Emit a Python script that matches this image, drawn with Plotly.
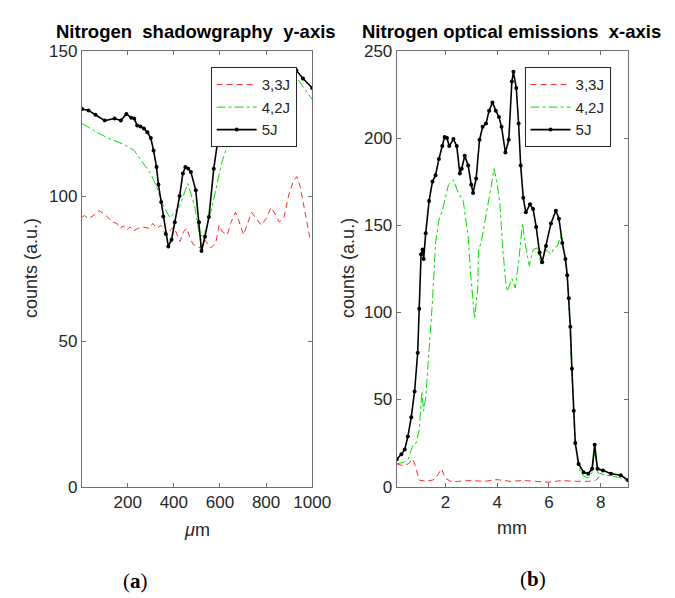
import plotly.graph_objects as go

# ---- panel (a): shadowgraphy, y-axis (um) ----
a_x_33 = [2, 13, 27, 48, 76, 97, 118, 132, 153, 167, 181, 195, 210, 224, 245, 266, 294, 308,
          329, 343, 357, 371, 385, 400, 414, 427, 442, 456, 470, 484, 512, 533, 561, 582,
          596, 610, 632, 646, 667, 681, 702, 723, 737, 758, 779, 800, 822, 843, 857, 878,
          899, 920, 934, 948, 969, 990, 1000]
a_y_33 = [92.8, 93.3, 92.2, 93.1, 95, 93.9, 92.4, 91.1, 90.6, 88.9, 89.8, 88.3, 89.4, 88,
          88.9, 89.4, 88.9, 90.6, 88.9, 90, 87.8, 86.7, 88.3, 89.4, 86.7, 84.4, 87.8, 88.9,
          85.6, 83.3, 82.2, 85, 82.2, 83.9, 90, 87.8, 86.7, 90.6, 94.4, 91.7, 86.7, 91.1,
          94.4, 92.2, 90, 92.2, 96.1, 93.3, 91.1, 92.8, 100.6, 105.6, 106.7, 103.3, 95, 85.6, 85]

a_x_42 = [2, 59, 114, 186, 228, 257, 300, 325, 354, 384, 426, 460, 490, 511, 530, 565,
          608, 641, 657, 700, 750, 800, 850, 916, 945, 1000]
a_y_42 = [125, 122.3, 120, 117.7, 115.7, 112.3, 107.7, 103.3, 96.7, 92.5, 96.7, 104.3, 96.7,
          86.7, 86.1, 96, 111.7, 119.4, 122.8, 128, 132, 136, 139, 141.5, 139.4, 133.3]

a_x_5 = [2, 30, 60, 100, 143, 170, 194, 215, 228, 241, 255, 270, 285, 300, 312, 325, 333,
         345, 354, 365, 376, 390, 404, 425, 439, 450, 462, 474, 495, 509, 520, 535, 552,
         573, 594, 620, 650, 700, 750, 800, 850, 900, 931, 960, 1000]
a_y_5 = [130, 129.5, 128, 126, 126.7, 126, 128.3, 127, 126.7, 124.3, 124, 123.3, 122, 120,
         115.7, 110, 104, 98, 93, 87, 82.7, 85, 91, 100, 107.8, 110, 109.5, 108.3, 102, 91,
         81.1, 86, 92.8, 109.4, 121.1, 128, 134, 138, 140, 141, 142, 143, 143.3, 140.5, 137.2]

# ---- panel (b): optical emissions, x-axis (mm) ----
b_x_33 = [0.12, 0.37, 0.56, 0.75, 0.87, 0.99, 1.24, 1.5, 1.62, 1.85, 2.0, 2.25, 2.5, 3.0,
          3.5, 4.0, 4.5, 5.0, 5.5, 6.0, 6.5, 7.0, 7.5, 7.8, 8.0]
b_y_33 = [13, 12, 13, 15.7, 10.2, 3.7, 3.1, 3.7, 4.6, 10.2, 4.6, 2.8, 3, 3.5, 3, 4, 3, 3.5,
          3, 2.5, 3.5, 3, 3, 3.5, 6.5]

b_x_42 = [0.12, 0.37, 0.56, 0.75, 0.87, 0.99, 1.09, 1.16, 1.24, 1.37, 1.5, 1.62, 1.75, 1.88,
          2.0, 2.12, 2.31, 2.5, 2.69, 2.75, 2.88, 2.98, 3.07, 3.13, 3.25, 3.28, 3.38, 3.57,
          3.76, 3.88, 4.01, 4.11, 4.2, 4.32, 4.39, 4.57, 4.7, 4.83, 4.98, 5.08, 5.24, 5.39,
          5.54, 5.7, 5.89, 6.08, 6.21, 6.33, 6.45, 6.64, 6.71, 6.77, 6.83, 6.89, 6.96, 7.02,
          7.15, 7.34, 7.52, 7.67, 7.77, 7.88, 8.09, 8.4, 8.78, 9.06]
b_y_42 = [13, 13.9, 15.7, 24, 25, 32.4, 54.6, 43.5, 50.9, 76.8, 106, 139.8, 152.8, 158.3,
          166.7, 173.2, 175.9, 168.5, 163.9, 158.3, 143.5, 121.3, 104.6, 96.3, 113.9, 136,
          139.8, 154.6, 171.3, 182.4, 173.2, 162, 139.8, 119.4, 112, 119.4, 113.9, 128.7, 151,
          139.8, 126.8, 136, 137, 127.8, 136, 133.3, 137, 138, 143.5, 130.6, 120, 105, 88, 65,
          42, 24, 11, 6, 5, 8, 20, 8, 7, 6, 5, 3]

b_x_5 = [0.12, 0.3, 0.43, 0.55, 0.68, 0.81, 0.93, 0.99, 1.06, 1.12, 1.16, 1.24, 1.37, 1.5,
         1.62, 1.75, 1.88, 1.97, 2.06, 2.15, 2.31, 2.44, 2.56, 2.63, 2.75, 2.88, 3.0, 3.07,
         3.19, 3.32, 3.44, 3.57, 3.69, 3.82, 3.95, 4.07, 4.17, 4.32, 4.45, 4.57, 4.63, 4.74,
         4.83, 4.91, 5.01, 5.11, 5.27, 5.39, 5.51, 5.64, 5.74, 5.89, 6.08, 6.27, 6.39, 6.52,
         6.64, 6.71, 6.77, 6.83, 6.89, 6.96, 7.02, 7.15, 7.34, 7.52, 7.67, 7.77, 7.88, 8.09,
         8.4, 8.78, 9.06]
b_y_5 = [15.7, 18.5, 21.3, 28.7, 39.8, 54.6, 76.8, 102, 133.3, 136, 130.6, 145.4, 163.9, 175,
         178.7, 188, 195.4, 200.6, 200, 195.4, 199.4, 195.4, 179.6, 182.4, 189.8, 184.3,
         173.2, 168.5, 176.8, 199, 206.5, 208.3, 215.7, 220.4, 215.7, 212, 206.5, 191.7, 199,
         232.4, 238, 228.7, 208.3, 184.3, 165.7, 157.4, 162, 159.3, 149, 134.3, 128.7, 138,
         151, 158.3, 153.7, 139.8, 130.6, 121.3, 108, 91.7, 67.6, 43.5, 25, 13, 8.3, 7.4,
         10.2, 24, 10.2, 9.3, 7.4, 6.5, 3.7]

SERIES_NAMES = ["3,3J", "4,2J", "5J"]

W, H = 675, 598
AX_COLOR = "#262626"
LINE_COLOR = "#6e6e6e"
FONT = "Liberation Sans, Arial, sans-serif"
NB = "\u00a0"


def px_x(p):
    return p / W


def px_y(p):
    return 1 - p / H


fig = go.Figure()

for xs, ys, axes, legend in [
    ((a_x_33, a_x_42, a_x_5), (a_y_33, a_y_42, a_y_5), ("x", "y"), "legend"),
    ((b_x_33, b_x_42, b_x_5), (b_y_33, b_y_42, b_y_5), ("x2", "y2"), "legend2"),
]:
    fig.add_trace(go.Scatter(
        x=xs[0], y=ys[0], name=SERIES_NAMES[0], mode="lines",
        line=dict(color="#ff2a2a", width=1, dash="6px,4px"),
        xaxis=axes[0], yaxis=axes[1], legend=legend,
    ))
    fig.add_trace(go.Scatter(
        x=xs[1], y=ys[1], name=SERIES_NAMES[1], mode="lines",
        line=dict(color="#00e000", width=1, dash="dashdot"),
        xaxis=axes[0], yaxis=axes[1], legend=legend,
    ))
    fig.add_trace(go.Scatter(
        x=xs[2], y=ys[2], name=SERIES_NAMES[2], mode="lines+markers",
        line=dict(color="black", width=1.6),
        marker=dict(color="black", size=4),
        xaxis=axes[0], yaxis=axes[1], legend=legend,
    ))

axis_common = dict(
    showline=True, linecolor=LINE_COLOR, linewidth=1, mirror="ticks",
    ticks="inside", ticklen=4, tickcolor=LINE_COLOR,
    showgrid=False, zeroline=False,
    tickfont=dict(family=FONT, size=17, color=AX_COLOR),
)
y_dom = [px_y(485), px_y(35)]

legend_common = dict(
    xanchor="right", yanchor="top",
    bgcolor="white", bordercolor=AX_COLOR, borderwidth=1,
    font=dict(family=FONT, size=15, color=AX_COLOR),
    tracegroupgap=0, itemwidth=40,
)

fig.update_layout(
    width=W, height=H,
    margin=dict(l=0, r=0, t=0, b=0),
    paper_bgcolor="white", plot_bgcolor="white",
    xaxis=dict(domain=[px_x(76), px_x(313)], range=[1, 1000],
               tickvals=[200, 400, 600, 800, 1000], anchor="y", **axis_common),
    yaxis=dict(domain=y_dom, range=[0, 150], tickvals=[0, 50, 100, 150],
               anchor="x", **axis_common),
    xaxis2=dict(domain=[px_x(400), px_x(638)], range=[0.12, 9.06],
                tickvals=[2, 4, 6, 8], anchor="y2", **axis_common),
    yaxis2=dict(domain=y_dom, range=[0, 250], tickvals=[0, 50, 100, 150, 200, 250],
                anchor="x2", **axis_common),
    legend=dict(x=px_x(297), y=px_y(52), **legend_common),
    legend2=dict(x=px_x(620), y=px_y(52), **legend_common),
)

# (text, x px, y px, yanchor, size, family, angle, color)
texts = [
    (f"<b>Nitrogen{NB}{NB}shadowgraphy{NB}{NB}y-axis</b>", 193, 28, "bottom", 18.5, FONT, 0, "black"),
    (f"<b>Nitrogen optical emissions{NB}{NB}x-axis</b>", 518, 28, "bottom", 18.5, FONT, 0, "black"),
    ("counts (a.u.)", 23, 259, "middle", 18, FONT, -90, AX_COLOR),
    ("counts (a.u.)", 350, 259, "middle", 18, FONT, -90, AX_COLOR),
    ("<i>μ</i>m", 194, 530, "middle", 18, FONT, 0, AX_COLOR),
    ("mm", 519, 528, "middle", 18, FONT, 0, AX_COLOR),
    ("(<b>a</b>)", 131, 582, "middle", 21, "Liberation Serif, serif", 0, "black"),
    ("(<b>b</b>)", 540, 580, "middle", 21, "Liberation Serif, serif", 0, "black"),
]
for text, x, y, yanchor, size, family, angle, color in texts:
    fig.add_annotation(
        text=text, x=px_x(x), y=px_y(y), xref="paper", yref="paper",
        xanchor="center", yanchor=yanchor, showarrow=False, textangle=angle,
        font=dict(family=family, size=size, color=color),
    )

fig.write_html("out.html")
